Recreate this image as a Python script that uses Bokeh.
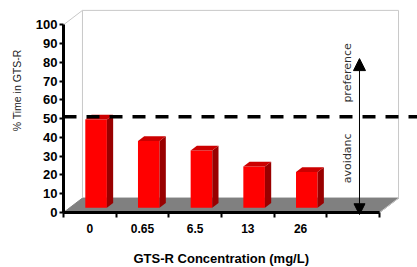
import math
from bokeh.plotting import figure
from bokeh.models import (Range1d, FixedTicker, Span, Label, Arrow, NormalHead, Title)
from bokeh.embed import file_html
from bokeh.resources import INLINE

# ---- data ----
categories = ["0", "0.65", "6.5", "13", "26"]
pct_time = [47, 35.5, 30.5, 22, 19]
y_ticks = [0, 10, 20, 30, 40, 50, 60, 70, 80, 90, 100]
threshold = 50
x_title = "GTS-R Concentration (mg/L)"
y_title = "% Time in GTS-R"

# ---- style / 3D geometry ----
N_SLOTS = len(categories) + 1          # one extra empty slot for the arrow
DX, DY = 0.36, 7.7                     # depth offset of the floor (data units)
FRONT = 0.33                           # bar front plane, fraction of depth
BDEPTH = 0.33                          # bar depth, fraction of depth
BAR_W = 0.41
DASH_DEPTH = 1.0

p = figure(width=417, height=267, output_backend="svg", toolbar_location=None,
           x_range=Range1d(0, 6.72), y_range=Range1d(0, 108.7),
           min_border_left=63, min_border_right=0, min_border_top=8,
           min_border_bottom=55)
p.outline_line_color = None
p.xgrid.visible = False
p.ygrid.visible = False
p.background_fill_color = "white"

# floor
p.patch([0, N_SLOTS, N_SLOTS + DX, DX], [0, 0, DY, DY],
        fill_color="#808080", line_color="#808080")
# back wall edges
top = max(y_ticks)
p.multi_line([[0, DX], [DX, DX, N_SLOTS + DX, N_SLOTS + DX], [N_SLOTS, N_SLOTS + DX]],
             [[top, top + DY], [DY, top + DY, top + DY, DY], [0, DY]],
             line_color="#c8c8c8", line_width=1)

# bars (3D)
sx, sy = FRONT * DX, FRONT * DY
bx, by = BDEPTH * DX, BDEPTH * DY
centers = [i + 0.5 for i in range(len(categories))]
lefts = [c - BAR_W / 2 + sx for c in centers]
rights = [c + BAR_W / 2 + sx for c in centers]
tops = [v + sy for v in pct_time]
p.quad(left=lefts, right=rights, bottom=[sy] * len(centers), top=tops,
       fill_color="#ff0000", line_color=None)
side_xs = [[r, r + bx, r + bx, r] for r in rights]
side_ys = [[sy, sy + by, t + by, t] for t in tops]
p.patches(side_xs, side_ys, fill_color="#990000", line_color=None)
top_xs = [[l, l + bx, r + bx, r] for l, r in zip(lefts, rights)]
top_ys = [[t, t + by, t + by, t] for t in tops]
p.patches(top_xs, top_ys, fill_color="#cc0000", line_color=None)

# threshold dashed line
p.add_layout(Span(location=threshold + DASH_DEPTH, dimension="width",
                  line_color="black", line_width=3.5, line_dash="13 10"))

# preference / avoidance arrow in the empty slot
ax = N_SLOTS - 0.5 + sx
p.add_layout(Arrow(x_start=ax, y_start=-1.2, x_end=ax, y_end=82,
                   line_color="black", line_width=1,
                   start=NormalHead(size=11, fill_color="black", line_color="black"),
                   end=NormalHead(size=12, fill_color="black", line_color="black")))
for txt, yy in [("preference", 74.4), ("avoidanc", 28.9)]:
    p.add_layout(Label(x=ax - 0.23, y=yy, text=txt, angle=math.pi / 2,
                       text_align="center", text_baseline="middle",
                       text_font="DejaVu Sans", text_font_size="11px",
                       text_color="#303030"))

# y title (left title, shifted toward the top)
p.add_layout(Title(text=y_title, align="right", offset=41, vertical_align="middle",
                   text_font="Liberation Sans", text_font_size="10.5px",
                   text_font_style="normal", text_color="#202020", standoff=18), "left")
# x title (below, shifted to the centre of the axis)
p.add_layout(Title(text=x_title, align="left", offset=70, vertical_align="top",
                   text_font="Liberation Sans", text_font_size="13px",
                   text_font_style="bold", text_color="black", standoff=0), "below")

# x axis
xa = p.xaxis[0]
xa.ticker = FixedTicker(ticks=[i + 0.5 for i in range(N_SLOTS)],
                        minor_ticks=list(range(N_SLOTS + 1)))
xa.major_label_overrides = {i + 0.5: (categories[i] if i < len(categories) else "")
                            for i in range(N_SLOTS)}
xa.bounds = (0, N_SLOTS)
xa.axis_line_width = 3
xa.major_tick_out = 0
xa.major_tick_in = 0
xa.minor_tick_out = 5
xa.minor_tick_in = 0
xa.minor_tick_line_width = 2
xa.major_label_standoff = 6
xa.major_label_text_font = "Liberation Sans"
xa.major_label_text_font_style = "bold"
xa.major_label_text_font_size = "12px"
xa.major_label_text_color = "black"
xa.axis_label = " "                    # spacer so the title sits lower
xa.axis_label_text_font_size = "1px"
xa.axis_label_standoff = 11

# y axis
ya = p.yaxis[0]
ya.ticker = FixedTicker(ticks=y_ticks, minor_ticks=[])
ya.bounds = (0, top)
ya.axis_line_width = 3
ya.major_tick_out = 4
ya.major_tick_in = 0
ya.major_tick_line_width = 2
ya.minor_tick_out = 0
ya.minor_tick_in = 0
ya.major_label_standoff = 2
ya.major_label_text_font = "Liberation Sans"
ya.major_label_text_font_style = "bold"
ya.major_label_text_font_size = "13px"
ya.major_label_text_color = "black"

open("out.html", "w").write(file_html(p, INLINE))
